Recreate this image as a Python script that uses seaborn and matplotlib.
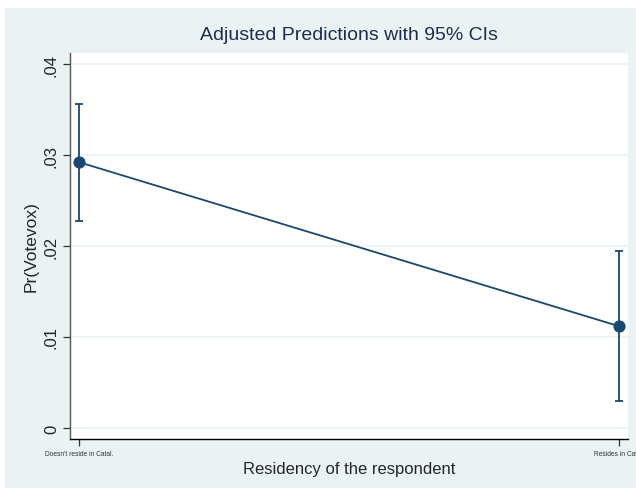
import matplotlib
matplotlib.use('Agg')
import matplotlib.pyplot as plt
import matplotlib.patches as mpatches
import seaborn as sns
import pandas as pd

categories = ["Doesn't reside in Catal.", "Resides in Catal."]
positions = [0, 1]
margin = [0.0292, 0.0112]
ci_low = [0.0227, 0.0030]
ci_high = [0.0356, 0.0194]
yticks = [0, 0.01, 0.02, 0.03, 0.04]
ytick_labels = ["0", ".01", ".02", ".03", ".04"]

NAVY = "#1a476f"
BG = "#eaf2f3"

sns.set_style("white")
plt.rcParams['font.family'] = ['Liberation Sans', 'DejaVu Sans']

df = pd.DataFrame({"x": positions, "margin": margin, "lo": ci_low, "hi": ci_high})

fig = plt.figure(figsize=(6.36, 4.89), dpi=100, facecolor="white")
# Stata graph region (light blue-grey) with a thin white border at top/left
fig.patches.append(mpatches.Rectangle((5 / 636, 0), 1 - 5 / 636, 1 - 9 / 489,
                                      transform=fig.transFigure, facecolor=BG,
                                      edgecolor="none", zorder=-10))

ax = fig.add_axes([70 / 636, 1 - 440 / 489, (628 - 70) / 636, (440 - 54) / 489])
ax.set_facecolor("white")

# CI bars
ax.errorbar(df["x"], df["margin"],
            yerr=[df["margin"] - df["lo"], df["hi"] - df["margin"]],
            fmt="none", ecolor=NAVY, elinewidth=1.3, capsize=3, capthick=1.3, zorder=3)
sns.lineplot(data=df, x="x", y="margin", color=NAVY, lw=1.3, marker="o",
             markersize=8, markeredgecolor=NAVY, ax=ax, zorder=4)

ax.set_xlim(-0.0172, 1.0173)
ax.set_ylim(-0.00121, 0.04121)

ax.set_yticks(yticks)
ax.set_yticklabels(ytick_labels, rotation=90, va="center", fontsize=12)
ax.set_xticks(positions)
ax.set_xticklabels(categories, fontsize=4.8, color="#333333")

ax.yaxis.grid(True, color=BG, lw=1.2)
ax.xaxis.grid(False)
ax.set_axisbelow(True)

ax.tick_params(axis="both", direction="out", length=5, width=0.9, color="#333333", left=True, bottom=True)
ax.tick_params(axis="x", pad=3)
ax.tick_params(axis="y", pad=3)

for s in ["top", "right"]:
    ax.spines[s].set_visible(False)
ax.spines["left"].set_color("#555555")
ax.spines["left"].set_linewidth(1.0)
ax.spines["bottom"].set_color("black")
ax.spines["bottom"].set_linewidth(1.0)

ax.set_xlabel("Residency of the respondent", fontsize=12, labelpad=3)
ax.set_ylabel("Pr(Votevox)", fontsize=12.5, labelpad=4)
fig.text((70 + 628) / 2 / 636, 1 - 36 / 489, "Adjusted Predictions with 95% CIs",
         ha="center", va="center", fontsize=14, color="#1e2d50")

fig.savefig("out.png", dpi=100, facecolor=fig.get_facecolor())
